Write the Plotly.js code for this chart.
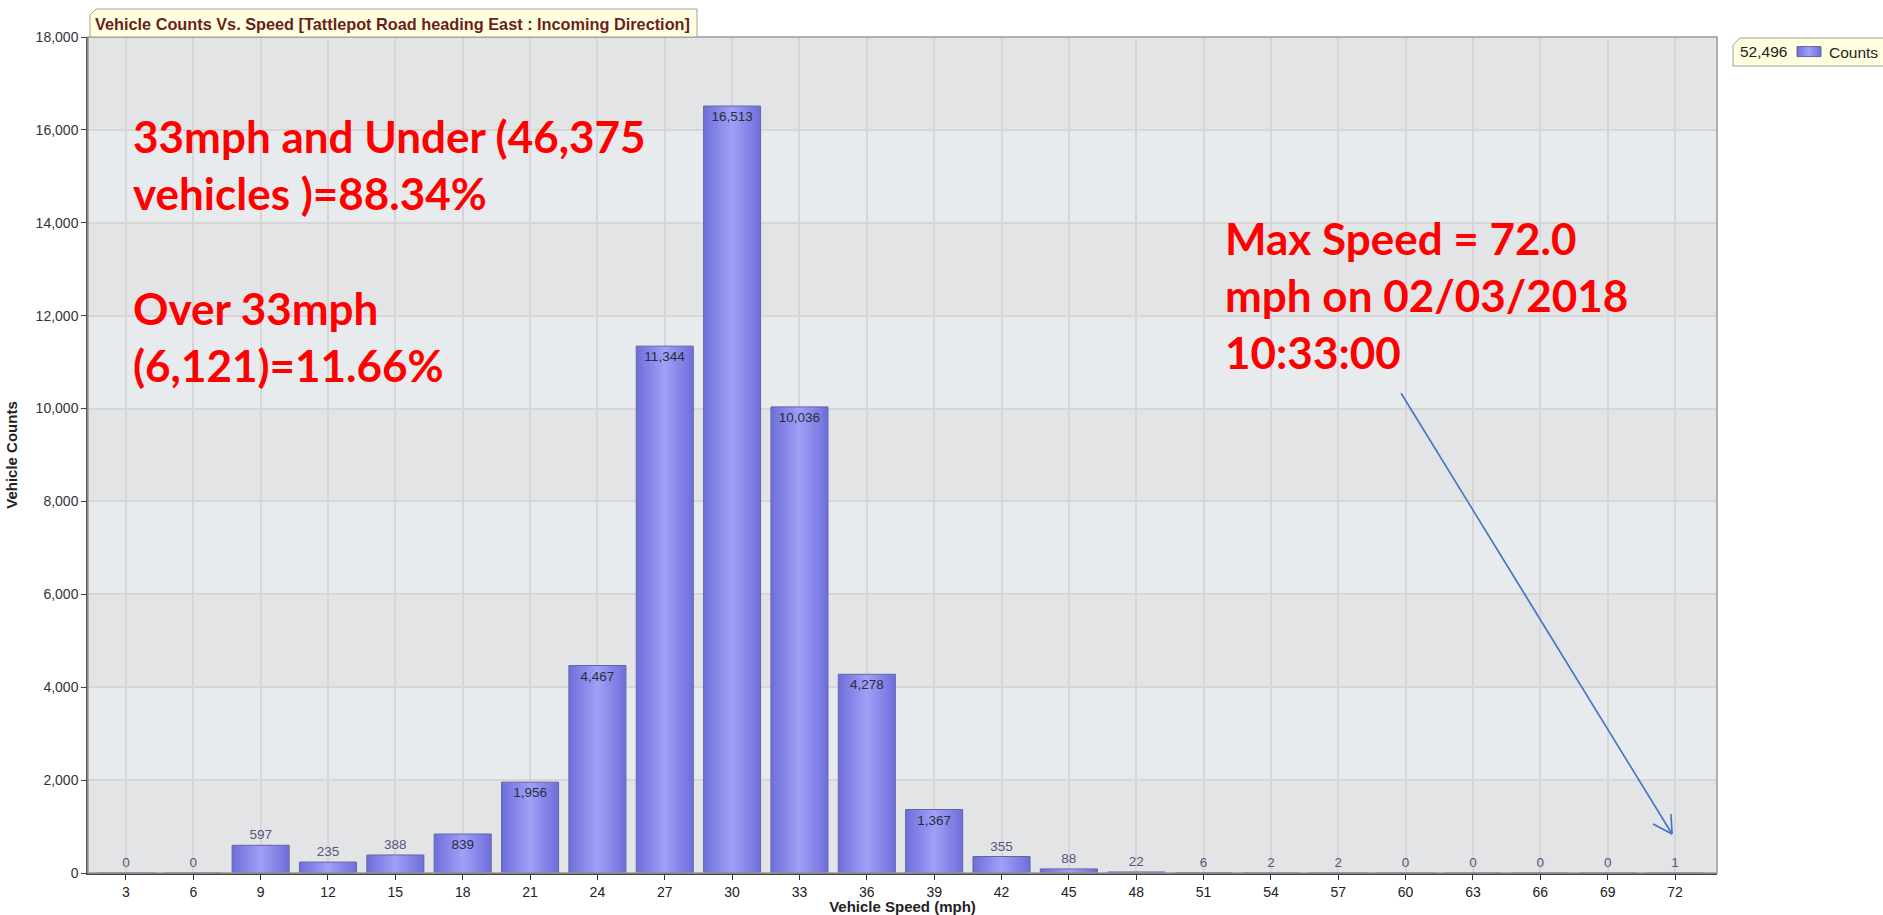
<!DOCTYPE html>
<html>
<head>
<meta charset="utf-8">
<script src="https://cdn.plot.ly/plotly-3.0.1.min.js"></script>
<style>
  html, body { margin: 0; padding: 0; background: #ffffff; }
  #chart { width: 1883px; height: 915px; }
</style>
</head>
<body>
<div id="chart"></div>
<script>
// ---- data ----
const speeds = [3, 6, 9, 12, 15, 18, 21, 24, 27, 30, 33, 36, 39, 42, 45, 48, 51, 54, 57, 60, 63, 66, 69, 72];
const tickLabels = ['3','6','9','12','15','18','21','24','27','30','33','36','39','42','45','48','51','54','57','60','63','66','69','72'];
const counts = [0, 0, 597, 235, 388, 839, 1956, 4467, 11344, 16513, 10036, 4278, 1367, 355, 88, 22, 6, 2, 2, 0, 0, 0, 0, 1];
const yTicks = [0, 2000, 4000, 6000, 8000, 10000, 12000, 14000, 16000, 18000];
const seriesName = 'Counts';
const totalLabel = '52,496';
const chartTitle = 'Vehicle Counts Vs. Speed [Tattlepot Road heading East : Incoming Direction]';
const noteUnder = '33mph and Under (46,375<br>vehicles )=88.34%<br> <br>Over 33mph<br>(6,121)=11.66%';
const noteMax = 'Max Speed = 72.0<br>mph on 02/03/2018<br>10:33:00';
// arrow from the "Max Speed" note down to the 72 mph bar (data coordinates)
const arrowFrom = [59.8, 10330];
const arrowTo = [71.87, 840];

const fmt = v => v.toLocaleString('en-US');
const labelText = counts.map(fmt);
const labelPos = counts.map(v => v >= 800 ? 'inside' : 'outside');

const FONT = 'Liberation Sans, Arial, sans-serif';

const trace = {
  type: 'bar',
  x: speeds,
  y: counts,
  name: seriesName,
  text: labelText,
  textposition: labelPos,
  insidetextanchor: 'end',
  constraintext: 'none',
  cliponaxis: false,
  textfont: { family: FONT, size: 13.5 },
  insidetextfont: { family: FONT, size: 13.5, color: '#2c2c3c' },
  outsidetextfont: { family: FONT, size: 13.5, color: '#55557f' },
  marker: { color: '#8a8aec', line: { color: '#6464a8', width: 1 } },
  hoverinfo: 'x+y'
};

const shapes = [];
for (let i = 0; i < yTicks.length - 1; i += 2) {
  shapes.push({ type: 'rect', xref: 'paper', x0: 0, x1: 1, yref: 'y', y0: yTicks[i], y1: yTicks[i + 1],
    fillcolor: '#e3e4e6', line: { width: 0 }, layer: 'below' });
}
// plot frame (top / right)
shapes.push({ type: 'rect', xref: 'paper', yref: 'paper', x0: 0, x1: 1, y0: 0, y1: 1,
  line: { color: '#9a9a9a', width: 1.5 }, fillcolor: 'rgba(0,0,0,0)', layer: 'above' });
// title tab box (paper coords)
const W = 1629, H = 836;
const px = p => (p - 88) / W;          // pixel x -> paper
const py = p => (873 - p) / H;         // pixel y -> paper
shapes.push({ type: 'path', xref: 'paper', yref: 'paper', layer: 'above',
  path: `M ${px(90)} ${py(37)} L ${px(90)} ${py(15)} L ${px(96)} ${py(9)} L ${px(697)} ${py(9)} L ${px(697)} ${py(37)} Z`,
  fillcolor: '#ffffe0', line: { color: '#a0a0a0', width: 1 } });
// legend tab box
shapes.push({ type: 'path', xref: 'paper', yref: 'paper', layer: 'above',
  path: `M ${px(1733)} ${py(66)} L ${px(1733)} ${py(45)} L ${px(1740)} ${py(38)} L ${px(1895)} ${py(38)} L ${px(1895)} ${py(66)} Z`,
  fillcolor: '#ffffe0', line: { color: '#a0a0a0', width: 1 } });
// arrow
shapes.push({ type: 'line', xref: 'x', yref: 'y', x0: arrowFrom[0], y0: arrowFrom[1], x1: arrowTo[0], y1: arrowTo[1],
  line: { color: '#4472c4', width: 1.6 }, layer: 'above' });
shapes.push({ type: 'line', xref: 'x', yref: 'y', x0: arrowTo[0], y0: arrowTo[1], x1: 71.02, y1: 1055,
  line: { color: '#4472c4', width: 1.6 }, layer: 'above' });
shapes.push({ type: 'line', xref: 'x', yref: 'y', x0: arrowTo[0], y0: arrowTo[1], x1: 71.82, y1: 1270,
  line: { color: '#4472c4', width: 1.6 }, layer: 'above' });

const redFont = { family: 'Lato, Calibri, sans-serif', size: 44, color: '#ff0000', weight: 'bold' };

const layout = {
  width: 1883,
  height: 915,
  margin: { l: 88, r: 166, t: 37, b: 42, autoexpand: false },
  paper_bgcolor: '#ffffff',
  plot_bgcolor: '#e8ebee',
  bargap: 0.153,
  showlegend: true,
  font: { family: FONT, size: 13, color: '#333' },
  title: {
    text: '<b>' + chartTitle + '</b>',
    xref: 'container', yref: 'container',
    x: 95 / 1883, xanchor: 'left',
    y: 1 - 24 / 915, yanchor: 'middle',
    font: { family: FONT, size: 16.3, color: '#6a1f1f' }
  },
  xaxis: {
    type: 'linear',
    range: [1.31, 73.87],
    tickmode: 'array',
    tickvals: speeds,
    ticktext: tickLabels,
    showgrid: true,
    gridcolor: '#d6d6d6',
    gridwidth: 1.5,
    zeroline: false,
    showline: true,
    linecolor: '#444',
    linewidth: 2,
    ticks: 'outside',
    ticklen: 5,
    tickcolor: '#333',
    tickfont: { family: FONT, size: 14, color: '#222' },
    title: { text: '<b>Vehicle Speed (mph)</b>', standoff: 2,
      font: { family: FONT, size: 15, color: '#222' } },
    fixedrange: true
  },
  yaxis: {
    range: [0, 18000],
    tickmode: 'array',
    tickvals: yTicks,
    tickformat: ',d',
    showgrid: true,
    gridcolor: '#d6d6d6',
    gridwidth: 1.5,
    zeroline: false,
    showline: true,
    linecolor: '#555',
    linewidth: 1.5,
    ticks: 'outside',
    ticklen: 5,
    tickcolor: '#444',
    tickfont: { family: FONT, size: 14, color: '#333' },
    title: { text: '<b>Vehicle Counts</b>', standoff: 14,
      font: { family: FONT, size: 15, color: '#222' } },
    fixedrange: true
  },
  legend: {
    xref: 'container', yref: 'container',
    x: 1789 / 1883, xanchor: 'left',
    y: 1 - 52 / 915, yanchor: 'middle',
    bgcolor: 'rgba(0,0,0,0)',
    borderwidth: 0,
    font: { family: FONT, size: 15.5, color: '#222' }
  },
  shapes: shapes,
  annotations: [
    { xref: 'paper', yref: 'paper', x: px(131), y: py(108), xanchor: 'left', yanchor: 'top',
      align: 'left', showarrow: false, text: '<b>' + noteUnder + '</b>', font: redFont },
    { xref: 'paper', yref: 'paper', x: px(1223), y: py(210), xanchor: 'left', yanchor: 'top',
      align: 'left', showarrow: false, text: '<b>' + noteMax + '</b>', font: redFont },
    { xref: 'paper', yref: 'paper', x: px(1738), y: py(52), xanchor: 'left', yanchor: 'middle',
      showarrow: false, text: totalLabel,
      font: { family: FONT, size: 15.5, color: '#222' } }
  ]
};

Plotly.newPlot('chart', [trace], layout, { displayModeBar: false, staticPlot: false }).then(gd => {
  const svg = gd.querySelector('.main-svg');
  const NS = 'http://www.w3.org/2000/svg';
  const defs = document.createElementNS(NS, 'defs');
  const grad = document.createElementNS(NS, 'linearGradient');
  grad.setAttribute('id', 'barGrad');
  grad.setAttribute('x1', '0'); grad.setAttribute('y1', '0');
  grad.setAttribute('x2', '1'); grad.setAttribute('y2', '0');
  [['0%', '#6e6edb'], ['50%', '#a0a0f7'], ['100%', '#6e6edb']].forEach(([o, c]) => {
    const s = document.createElementNS(NS, 'stop');
    s.setAttribute('offset', o); s.setAttribute('stop-color', c);
    grad.appendChild(s);
  });
  defs.appendChild(grad);
  svg.insertBefore(defs, svg.firstChild);
  gd.querySelectorAll('.barlayer .point path').forEach(p => { p.style.fill = 'url(#barGrad)'; });
  gd.querySelectorAll('.legendpoints path').forEach(p => {
    p.setAttribute('d', 'M12,5H-12V-5H12Z');
    p.style.fill = 'url(#barGrad)';
  });
});
</script>
</body>
</html>
